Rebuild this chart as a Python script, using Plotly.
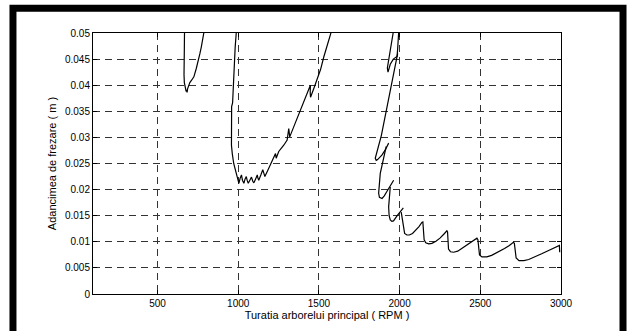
import plotly.graph_objects as go

# ---- data ----
lobe1_rpm = [668, 667, 666, 664, 664, 666, 670, 674, 677, 680, 683, 686, 690, 700, 712, 725, 740, 750, 762, 771, 787, 790]
lobe1_depth = [0.0505, 0.0500, 0.0470, 0.0451, 0.0420, 0.0405, 0.0398, 0.0397, 0.0388, 0.0391, 0.0386, 0.0393, 0.0397, 0.0405, 0.0410, 0.0416, 0.0432, 0.0448, 0.0460, 0.0473, 0.0500, 0.0506]

lobe2_rpm = [988, 987.6, 981, 973, 967, 962, 965, 959, 957, 960, 958, 963, 967, 972, 977, 983, 990, 994, 998, 1004,
             1012, 1020, 1026, 1035, 1042, 1050, 1055, 1062, 1072, 1082, 1090, 1097, 1107, 1118, 1122, 1127,
             1140, 1152, 1158, 1165, 1182, 1200, 1218, 1231, 1235, 1251, 1282, 1303, 1313, 1316, 1319, 1350,
             1385, 1415, 1437, 1447, 1446, 1448, 1470, 1489, 1510, 1530, 1555, 1577, 1580]
lobe2_depth = [0.0506, 0.0500, 0.0473, 0.0429, 0.0378, 0.0370, 0.0366, 0.0359, 0.0314, 0.0300, 0.0285, 0.0269, 0.0257, 0.0250, 0.0244, 0.0236, 0.0231, 0.0225, 0.0216, 0.0212,
               0.0222, 0.0228, 0.0218, 0.0212, 0.0220, 0.0225, 0.0218, 0.0212, 0.0218, 0.0224, 0.0216, 0.0213, 0.0220, 0.0228, 0.0222, 0.0218,
               0.0228, 0.0238, 0.0232, 0.0225, 0.0236, 0.0247, 0.0260, 0.0269, 0.0260, 0.0273, 0.0285, 0.0295, 0.0317, 0.0306, 0.0301, 0.0325,
               0.0352, 0.0372, 0.0390, 0.0400, 0.0385, 0.0377, 0.0395, 0.0410, 0.0430, 0.0454, 0.0478, 0.0500, 0.0506]

lobe3a_rpm = [1963, 1948, 1936, 1924, 1928, 1942, 1961, 1984, 1988, 1994, 1995]
lobe3a_depth = [0.0506, 0.0476, 0.0452, 0.0433, 0.0425, 0.0440, 0.0450, 0.0455, 0.0470, 0.0500, 0.0506]

lobe3b_rpm = [1988, 1955, 1922, 1887, 1849, 1855, 1862, 1875, 1890, 1911, 1932]
lobe3b_depth = [0.0461, 0.0410, 0.0362, 0.0304, 0.0260, 0.0256, 0.0257, 0.0261, 0.0266, 0.0276, 0.0289]

lobe3c_rpm = [1917, 1893, 1880, 1870, 1875, 1891, 1905, 1920, 1953, 1963]
lobe3c_depth = [0.0283, 0.0253, 0.0231, 0.0193, 0.0185, 0.0183, 0.0188, 0.0196, 0.0212, 0.0218]

lobe3d_rpm = [1942, 1932, 1935, 1942, 1952, 1962, 1985, 2015, 2023]
lobe3d_depth = [0.0205, 0.0167, 0.0150, 0.0142, 0.0139, 0.0140, 0.0150, 0.0161, 0.0165]

lobe3e_rpm = [2010, 2024, 2031, 2045, 2060, 2080, 2100, 2120, 2138,
              2144, 2152, 2162, 2180, 2200, 2225, 2250, 2275, 2293,
              2297, 2303, 2315, 2335, 2360, 2390, 2420, 2450, 2479,
              2485, 2495, 2510, 2540, 2570, 2610, 2650, 2680, 2705,
              2711, 2722, 2740, 2770, 2800, 2840, 2880, 2920, 2960, 2985,
              2990, 2992]
lobe3e_depth = [0.0157, 0.0123, 0.0116, 0.0113, 0.0113, 0.0116, 0.0122, 0.0129, 0.0137,
                0.0138, 0.0104, 0.0098, 0.0096, 0.0097, 0.0101, 0.0107, 0.0115, 0.0121,
                0.0119, 0.0086, 0.0081, 0.0080, 0.0082, 0.0088, 0.0095, 0.0101, 0.0107,
                0.0104, 0.0075, 0.0071, 0.0071, 0.0074, 0.0080, 0.0087, 0.0093, 0.0099,
                0.0097, 0.0069, 0.0064, 0.0064, 0.0066, 0.0071, 0.0077, 0.0083, 0.0089, 0.0093,
                0.0093, 0.0080]

segments = [(lobe1_rpm, lobe1_depth), (lobe2_rpm, lobe2_depth), (lobe3a_rpm, lobe3a_depth),
            (lobe3b_rpm, lobe3b_depth), (lobe3c_rpm, lobe3c_depth), (lobe3d_rpm, lobe3d_depth),
            (lobe3e_rpm, lobe3e_depth)]

x_ticks = [500, 1000, 1500, 2000, 2500, 3000]
x_ticklabels = ["500", "1000", "1500", "2000", "2500", "3000"]
y_ticks = [0, 0.005, 0.01, 0.015, 0.02, 0.025, 0.03, 0.035, 0.04, 0.045, 0.05]
y_ticklabels = ["0", "0.005", "0.01", "0.015", "0.02", "0.025", "0.03", "0.035", "0.04", "0.045", "0.05"]

x_title = "Turatia arborelui principal ( RPM )"
y_title = "Adancimea de frezare ( m )"

fig = go.Figure()
for xs, ys in segments:
    fig.add_trace(go.Scatter(x=xs, y=ys, mode="lines",
                             line=dict(color="black", width=1.2),
                             showlegend=False, hoverinfo="skip"))

font_family = "Liberation Sans, Arial, sans-serif"
fig.update_layout(
    width=634, height=331,
    margin=dict(l=93, r=73, t=33, b=37),
    paper_bgcolor="white", plot_bgcolor="white",
    font=dict(family=font_family, size=10, color="black"),
    showlegend=False,
)
fig.update_xaxes(
    range=[100, 3000], tickvals=x_ticks, ticktext=x_ticklabels,
    showgrid=True, gridcolor="#333333", gridwidth=1, griddash="7px,5px",
    showline=True, linecolor="black", linewidth=1, mirror="ticks",
    ticks="inside", ticklen=4, tickcolor="black", zeroline=False,
    tickfont=dict(size=10),
    title=dict(text=x_title, font=dict(size=11), standoff=2),
)
fig.update_yaxes(
    range=[0, 0.05], tickvals=y_ticks, ticktext=y_ticklabels,
    showgrid=True, gridcolor="#333333", gridwidth=1, griddash="7px,5px",
    showline=True, linecolor="black", linewidth=1, mirror="ticks",
    ticks="inside", ticklen=4, tickcolor="black", zeroline=False,
    tickfont=dict(size=10),
    title=dict(text=y_title, font=dict(size=11), standoff=6),
)

# outer black frame of the figure
fig.add_shape(type="rect", xref="paper", yref="paper",
              x0=-0.171, x1=1.1325, y0=-0.20, y1=1.0944,
              line=dict(color="black", width=7), fillcolor="rgba(0,0,0,0)", layer="above")

fig.write_html("out.html")
